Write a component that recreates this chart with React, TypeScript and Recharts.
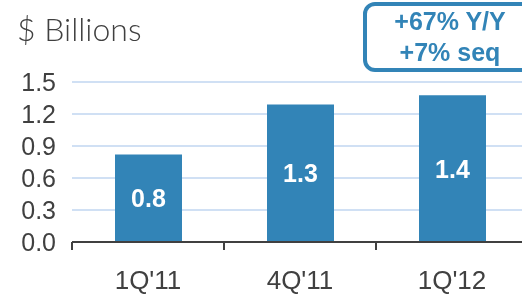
import React from 'react';
import { BarChart, Bar, XAxis, YAxis, CartesianGrid, LabelList } from 'recharts';

const quarters = ["1Q'11", "4Q'11", "1Q'12"];
const revenue = [0.82, 1.29, 1.375];
const yTicks = [0, 0.3, 0.6, 0.9, 1.2, 1.5];
const growthNotes = ['+67% Y/Y', '+7% seq'];

const data = quarters.map((q, i) => ({ q, value: revenue[i] }));

const BLUE = '#3284b7';
const GRAY = '#404040';
const FONT = '"Liberation Sans", Arial, sans-serif';

function QuarterTick(props: any) {
  const { x, y, payload } = props;
  const edge = x - (payload.offset || 0);
  return (
    <g>
      <line x1={edge} y1={y} x2={edge} y2={y + 8} stroke={GRAY} strokeWidth={2} />
      <text x={x} y={y + 47} textAnchor="middle" fill={GRAY} fontSize={26} fontFamily={FONT}>
        {payload.value}
      </text>
    </g>
  );
}

export default function App() {
  // fixed wrapper so overlays use page coordinates, ignoring the body margin
  return (
    <div style={{ position: 'fixed', left: 0, top: 0, width: 522, height: 296, overflow: 'hidden' }}>
      <div style={{ position: 'absolute', left: 8, top: 0 }}>
        <BarChart
          width={520}
          height={296}
          data={data}
          margin={{ top: 82, right: 0, bottom: 0, left: 0 }}
          barSize={67}
        >
          <CartesianGrid vertical={false} stroke="#d0e0f4" strokeWidth={2} />
          <XAxis
            dataKey="q"
            height={54}
            axisLine={{ stroke: GRAY, strokeWidth: 2 }}
            tickLine={false}
            tickSize={0}
            tickMargin={0}
            interval={0}
            tick={<QuarterTick />}
          />
          <YAxis
            width={64}
            domain={[0, 1.5]}
            ticks={yTicks}
            interval={0}
            axisLine={false}
            tickLine={false}
            tickSize={0}
            tickMargin={16}
            tickFormatter={(v: number) => v.toFixed(1)}
            tick={{ fill: GRAY, fontSize: 25, fontFamily: FONT }}
          />
          <Bar dataKey="value" fill={BLUE} isAnimationActive={false}>
            <LabelList
              dataKey="value"
              position="center"
              formatter={(v: any) => Number(v).toFixed(1)}
              fill="#ffffff"
              fontSize={25}
              fontWeight="bold"
              fontFamily={FONT}
            />
          </Bar>
        </BarChart>
      </div>
      <div
        style={{
          position: 'absolute',
          left: 17,
          top: 9,
          fontFamily: 'Lato, "Open Sans", sans-serif',
          fontWeight: 300,
          fontSize: 32,
          color: GRAY,
          whiteSpace: 'nowrap',
        }}
      >
        $ Billions
      </div>
      <div
        style={{
          position: 'absolute',
          left: 363,
          top: 2,
          width: 166,
          height: 62,
          border: `4px solid ${BLUE}`,
          borderRadius: 12,
          color: BLUE,
          fontFamily: FONT,
          fontWeight: 'bold',
          fontSize: 25,
          lineHeight: '31px',
          textAlign: 'center',
          paddingTop: 0,
          boxSizing: 'content-box',
        }}
      >
        {growthNotes.map((t) => (
          <div key={t}>{t}</div>
        ))}
      </div>
    </div>
  );
}
